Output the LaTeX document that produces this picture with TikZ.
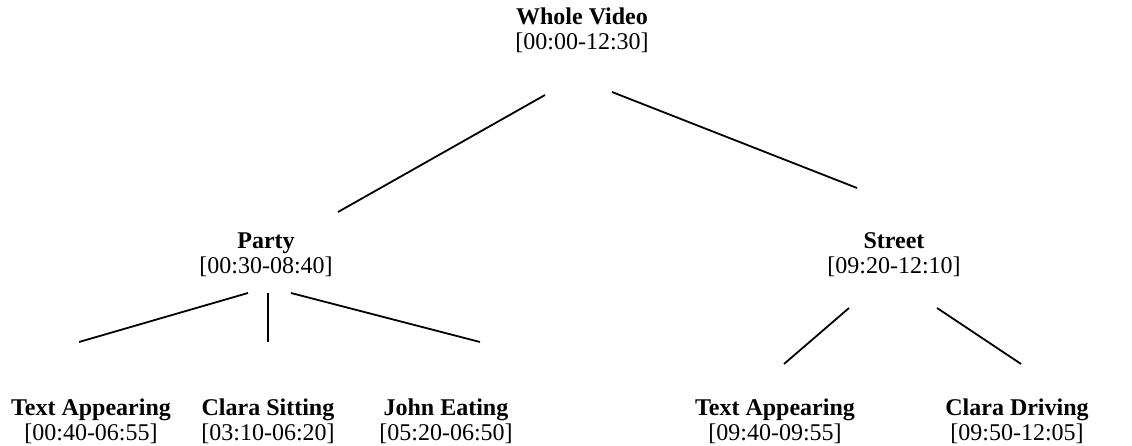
\documentclass[tikz,border=0pt]{standalone}
\usepackage{fontspec}
\setmainfont{Liberation Serif}
\begin{document}
\begin{tikzpicture}[x=1pt,y=-1pt]
\tikzset{
  lab/.style={align=center, inner sep=0pt, font=\fontsize{24}{25}\selectfont},
  edge/.style={line width=1.8pt}
}
\useasboundingbox (0,0) rectangle (1132,446);
% tree nodes
\node[lab] (root)   at (582,30)  {\textbf{Whole Video}\\{[}00:00-12:30{]}};
\node[lab] (party)  at (266,255) {\textbf{Party}\\{[}00:30-08:40{]}};
\node[lab] (street) at (894,255) {\textbf{Street}\\{[}09:20-12:10{]}};
\node[lab] (pa)  at (91,421)   {\textbf{Text Appearing}\\{[}00:40-06:55{]}};
\node[lab] (pb)  at (268,421)  {\textbf{Clara Sitting}\\{[}03:10-06:20{]}};
\node[lab] (pc)  at (446,421)  {\textbf{John Eating}\\{[}05:20-06:50{]}};
\node[lab] (sa)  at (775,421)  {\textbf{Text Appearing}\\{[}09:40-09:55{]}};
\node[lab] (sb)  at (1017,421) {\textbf{Clara Driving}\\{[}09:50-12:05{]}};
% connector end points
\coordinate (root-l)   at (545,95);
\coordinate (root-r)   at (612,92);
\coordinate (party-t)  at (338,212);
\coordinate (street-t) at (857,188);
\coordinate (party-l)  at (248,293);
\coordinate (party-m)  at (268,293);
\coordinate (party-r)  at (291,293);
\coordinate (pa-t) at (79,342);
\coordinate (pb-t) at (268,342);
\coordinate (pc-t) at (480,342);
\coordinate (street-l) at (849,308);
\coordinate (street-r) at (937,308);
\coordinate (sa-t) at (784,364);
\coordinate (sb-t) at (1021,364);
% connectors
\draw[edge] (root-l) -- (party-t);
\draw[edge] (root-r) -- (street-t);
\draw[edge] (party-l) -- (pa-t);
\draw[edge] (party-m) -- (pb-t);
\draw[edge] (party-r) -- (pc-t);
\draw[edge] (street-l) -- (sa-t);
\draw[edge] (street-r) -- (sb-t);
\end{tikzpicture}
\end{document}
